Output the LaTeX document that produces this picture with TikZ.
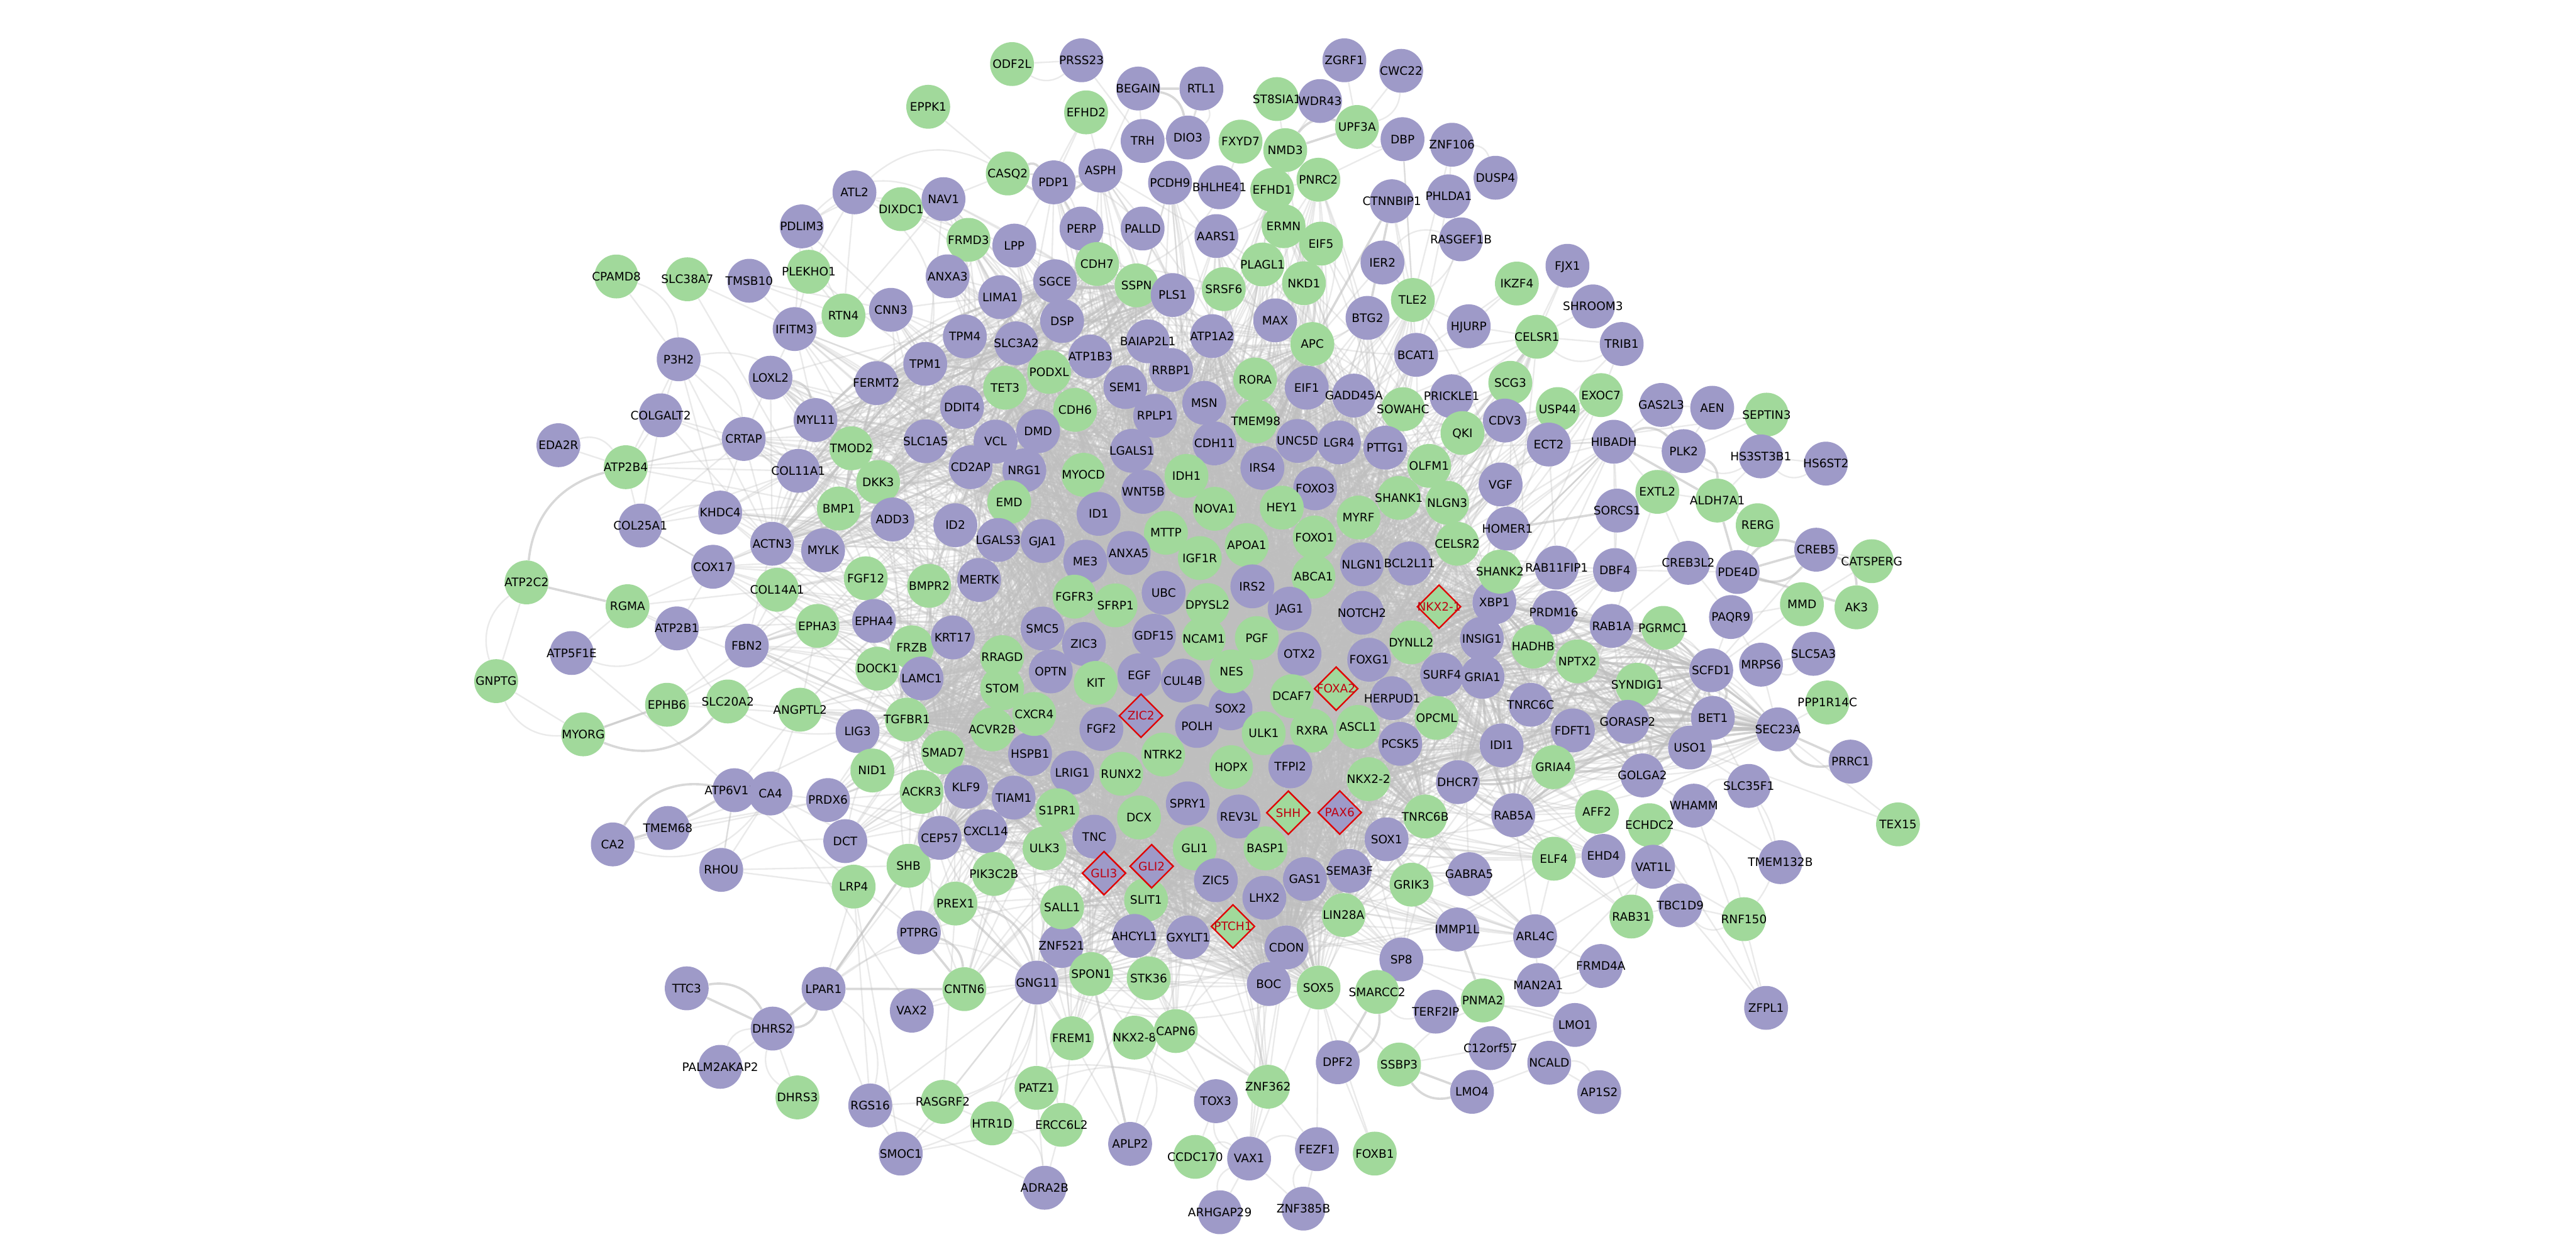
\documentclass[tikz,border=0pt]{standalone}
\usepackage{fontspec}
\setmainfont{DejaVu Sans}
\usetikzlibrary{shapes.geometric,backgrounds}
\definecolor{genepurple}{HTML}{9E9AC8}
\definecolor{genegreen}{HTML}{A1D99B}
\definecolor{edgegrey}{HTML}{BEBEBE}
\definecolor{hubred}{HTML}{E00000}
\definecolor{hubtext}{HTML}{C00010}

% central part of the network
\def\corelist{KIT,EGF,CUL4B,NES,OTX2,DCAF7,FOXA2,SOX2,POLH,ULK1,RXRA,ASCL1,FGF2,ZIC2,NTRK2,RUNX2,HOPX,TFPI2,NKX2-2,DCX,SPRY1,REV3L,SHH,PAX6,TNC,GLI1,BASP1,GLI3,GLI2,ZIC5,GAS1,SEMA3F,LHX2,PTCH1,SLIT1,LRIG1,S1PR1,HSPB1,TIAM1,ULK3,CXCR4,ACVR2B,OPTN,SMC5,ZIC3,GDF15,NCAM1,PGF,JAG1,NOTCH2,FOXG1,DYNLL2,HERPUD1,SURF4,GRIA1,PCSK5,OPCML,IDI1,SOX1,TNRC6B,DHCR7,UBC,DPYSL2,SFRP1,FGFR3,ME3,ANXA5,IGF1R,APOA1,IRS2,MTTP,ID1,NOVA1,HEY1,FOXO1,ABCA1,NLGN1,BCL2L11,NKX2-1,XBP1,INSIG1,MYRF,FOXO3,IRS4,WNT5B,IDH1,LGALS1,CDH11,MYOCD,EMD,GJA1,LGALS3,MERTK,RRAGD,STOM,KRT17,LAMC1,TGFBR1,SMAD7,KLF9,CXCL14,CEP57,AHCYL1,GXYLT1,CDON,BOC,SOX5,LIN28A,GRIK3,SHANK1,NLGN3,CELSR2,OLFM1,PTTG1,LGR4,UNC5D,TMEM98,RORA,MSN,RPLP1,SEM1,RRBP1,CDH6,DMD,NRG1,CD2AP,VCL,TET3,PODXL,ATP1A2,BAIAP2L1,APC,EIF1,GADD45A}
\def\hublist{EGF,SOX2,SHH,GLI1,POLH,UBC,KIT,NES,FGF2,TNC,GAS1,ZIC5,PAX6,ZIC2,HOPX,DCX,NTRK2,RXRA,ASCL1,JAG1,OTX2,FOXG1,IGF1R,APOA1,LGALS1,ID1,GLI2,GLI3,BASP1,CDON,ULK1,NOTCH2,TGFBR1,SMAD7,ACVR2B,MYOCD,CDH11,APC,NLGN1,XBP1}
% nodes with a fan of lines into the centre
\def\ringlist{CASQ2,PDP1,ASPH,PCDH9,BHLHE41,EFHD1,PNRC2,NAV1,DIXDC1,FRMD3,LPP,PERP,PALLD,AARS1,ERMN,EIF5,RTN4,CNN3,ANXA3,LIMA1,SGCE,CDH7,SSPN,PLS1,SRSF6,PLAGL1,NKD1,MAX,DSP,IFITM3,TPM1,TPM4,SLC3A2,FERMT2,ATP1B3,DDIT4,SLC1A5,LOXL2,MYL11,CRTAP,TMOD2,COL11A1,DKK3,BMP1,ADD3,ID2,KHDC4,ACTN3,MYLK,COX17,COL14A1,FGF12,BMPR2,EPHA3,EPHA4,FRZB,DOCK1,ANGPTL2,FBN2,LIG3,NID1,ACKR3,PRDX6,DCT,LRP4,SHB,PIK3C2B,PREX1,SALL1,PTPRG,CNTN6,GNG11,ZNF521,SPON1,STK36,FREM1,NKX2-8,CAPN6,ZNF362,SP8,SMARCC2,IMMP1L,GABRA5,ARL4C,RAB5A,ELF4,AFF2,EHD4,GRIA4,FDFT1,GORASP2,TNRC6C,SYNDIG1,NPTX2,HADHB,PRDM16,RAB1A,SHANK2,RAB11FIP1,DBF4,HOMER1,VGF,QKI,CDV3,ECT2,USP44,SCG3,PRICKLE1,SOWAHC,BCAT1,BTG2,TLE2,HJURP,HIBADH,CELSR1,EXOC7}
% denser patches
\def\rightlist{RAB1A,PGRMC1,SYNDIG1,GORASP2,FDFT1,TNRC6C,GRIA1,GRIA4,IDI1,SCFD1,BET1,USO1,GOLGA2,SEC23A,INSIG1,HADHB,NPTX2,XBP1,PRDM16,SURF4,DHCR7,RAB5A}
\def\leftlist{TPM1,TPM4,FERMT2,MYL11,TMOD2,DDIT4,SLC1A5,VCL,CD2AP,DKK3,ACTN3,MYLK,COL11A1,SLC3A2,ATP1B3,BAIAP2L1,DSP,SGCE,CDH7,SSPN,PLS1}
\def\bottomlist{PTCH1,GLI1,GLI2,GLI3,SHH,ZIC5,LHX2,GAS1,CDON,BOC,SLIT1,AHCYL1,GXYLT1,SALL1,ZNF521,GNG11,TNC,LIN28A,SOX5}

\newcommand{\meshnodes}[4]{%
  \foreach \a [count=\i] in #1 {
    \foreach \b [count=\j] in #2 {
      \edef\h{\the\numexpr\i*\i*13+\j*\j*7+\i*\j*5+\i+\j\relax}
      \ifnum\numexpr\h-(\h/#3)*#3\relax=0
        \ifx\a\b\else
          \draw[#4,bend left=\the\numexpr\i*3+\j*5-((\i*3+\j*5)/25)*25+9\relax] (\a) to (\b);
        \fi
      \fi
    }
  }}

\begin{document}
\begin{tikzpicture}[
  x=1pt,y=-1pt,
  gene/.style={circle,minimum size=26.7pt,inner sep=0pt,text=black,
    font=\fontsize{7.1}{8}\selectfont,text height=5.2pt,text depth=0pt},
  pnode/.style={gene,fill=genepurple},
  gnode/.style={gene,fill=genegreen},
  hub/.style={diamond,aspect=1,minimum size=26.7pt,inner sep=0pt,draw=hubred,line width=.9pt,
    text=hubtext,font=\fontsize{7.1}{8}\selectfont,text height=5.2pt,text depth=0pt},
  pdiam/.style={hub,fill=genepurple},
  gdiam/.style={hub,fill=genegreen},
  web/.style={edgegrey,draw opacity=.32,line width=.9pt},
  webb/.style={edgegrey,draw opacity=.6,line width=1.4pt},
]
  \useasboundingbox (0,0) rectangle (1568,763);

  % genes, top to bottom
  \foreach \x/\y/\kind/\gene in {
    616/39/gnode/ODF2L,658.3/36.7/pnode/PRSS23,692.8/53.9/pnode/BEGAIN,731.3/53.9/pnode/RTL1,661.1/68.4/gnode/EFHD2,565/65/gnode/EPPK1,
    777.2/60.3/gnode/ST8SIA1,803.5/61.5/pnode/WDR43,818.3/36.7/pnode/ZGRF1,852.9/43.1/pnode/CWC22,826/77.3/gnode/UPF3A,695.5/85.8/pnode/TRH,
    723.1/83.7/pnode/DIO3,755.1/86.2/gnode/FXYD7,782.3/91.4/gnode/NMD3,853.7/84.7/pnode/DBP,883.8/88.1/pnode/ZNF106,910.3/108.2/pnode/DUSP4,
    613.4/105.6/gnode/CASQ2,641.4/111/pnode/PDP1,669.8/103.8/pnode/ASPH,712.2/111.2/pnode/PCDH9,742.3/114/pnode/BHLHE41,802.5/109.4/gnode/PNRC2,
    774.4/115.6/gnode/EFHD1,847.2/122.5/pnode/CTNNBIP1,881.8/119.5/pnode/PHLDA1,889.3/145.7/pnode/RASGEF1B,520.1/117.1/pnode/ATL2,
    548.5/127.3/gnode/DIXDC1,574.3/121.2/pnode/NAV1,488/137.8/pnode/PDLIM3,589.5/146/gnode/FRMD3,617.4/149.5/pnode/LPP,658.3/139.1/pnode/PERP,
    695.5/139.1/pnode/PALLD,740.4/143.7/pnode/AARS1,781.3/137.7/gnode/ERMN,804.1/148.3/gnode/EIF5,841.5/159.8/pnode/IER2,492.3/165.4/gnode/PLEKHO1,
    375.2/168.3/gnode/CPAMD8,418.4/170/gnode/SLC38A7,456.1/170.9/pnode/TMSB10,576.8/168.2/pnode/ANXA3,667.8/160.7/gnode/CDH7,642.2/171.2/pnode/SGCE,
    768.5/161/gnode/PLAGL1,793.7/172.4/gnode/NKD1,691.8/173.7/gnode/SSPN,744.9/176/gnode/SRSF6,713.8/179.6/pnode/PLS1,860/182.6/gnode/TLE2,
    923.3/172.6/gnode/IKZF4,954.1/161.8/pnode/FJX1,969.6/186.5/pnode/SHROOM3,513.4/192/gnode/RTN4,542.3/188.6/pnode/CNN3,608.8/180.9/pnode/LIMA1,
    483.7/200.3/pnode/IFITM3,587.3/204.8/pnode/TPM4,618.6/209/pnode/SLC3A2,646.5/195.4/pnode/DSP,832.4/193.5/pnode/BTG2,776.2/195/pnode/MAX,
    894/198.6/pnode/HJURP,935.5/205/gnode/CELSR1,987.1/209.4/pnode/TRIB1,698.7/207.8/pnode/BAIAP2L1,737.8/204.6/pnode/ATP1A2,798.8/209.4/gnode/APC,
    862/216/pnode/BCAT1,413.1/218.7/pnode/P3H2,469/229.9/pnode/LOXL2,563.2/221.5/pnode/TPM1,533.4/233.2/pnode/FERMT2,611.8/236/gnode/TET3,
    638.6/226.4/gnode/PODXL,663.7/217/pnode/ATP1B3,712.8/225.2/pnode/RRBP1,685/235.6/pnode/SEM1,764/231/gnode/RORA,795.4/236/pnode/EIF1,
    824.1/240.8/pnode/GADD45A,854/249.1/gnode/SOWAHC,883.6/241.2/pnode/PRICKLE1,919.3/233/gnode/SCG3,948.2/249/gnode/USP44,974.5/240.5/gnode/EXOC7,
    1011.2/246.5/pnode/GAS2L3,1042.2/248.2/pnode/AEN,1075.3/252.4/gnode/SEPTIN3,402.2/252.8/pnode/COLGALT2,585.6/247.8/pnode/DDIT4,654.4/249.5/gnode/CDH6,
    733/245.2/pnode/MSN,703.1/253.1/pnode/RPLP1,764.4/256.5/gnode/TMEM98,789.9/268.4/pnode/UNC5D,815/269.3/pnode/LGR4,843.2/272.5/pnode/PTTG1,
    890.2/263.6/gnode/QKI,916/256/pnode/CDV3,942.7/270.6/pnode/ECT2,982.3/268.9/pnode/HIBADH,1024.8/274.6/pnode/PLK2,1071.8/277.8/pnode/HS3ST3B1,
    1111.4/282.2/pnode/HS6ST2,339.9/271/pnode/EDA2R,452.7/267.2/pnode/CRTAP,563.4/268.6/pnode/SLC1A5,606/268.8/pnode/VCL,623.5/286.3/pnode/NRG1,
    631.9/262.5/pnode/DMD,590.8/284.4/pnode/CD2AP,689/274.4/pnode/LGALS1,739.3/269.9/pnode/CDH11,768.4/284.8/pnode/IRS4,496.4/255.7/pnode/MYL11,
    518.2/272.9/gnode/TMOD2,534.5/293.4/gnode/DKK3,659.4/289/gnode/MYOCD,722.2/289.7/gnode/IDH1,695.9/299.4/pnode/WNT5B,800.5/297.3/pnode/FOXO3,
    380.9/284.4/gnode/ATP2B4,485.9/286.6/pnode/COL11A1,614.3/305.6/gnode/EMD,510.6/309.5/gnode/BMP1,543.3/316.2/pnode/ADD3,851.5/303.1/gnode/SHANK1,
    869.9/283.6/gnode/OLFM1,880.9/306/gnode/NLGN3,780.2/309/gnode/HEY1,739.4/309.7/gnode/NOVA1,709.7/324.3/gnode/MTTP,668.7/312.8/pnode/ID1,
    581.5/319.7/pnode/ID2,826.9/315/gnode/MYRF,913.4/294.9/pnode/VGF,1008.8/299.4/gnode/EXTL2,1045.3/304.7/gnode/ALDH7A1,984.3/310.8/pnode/SORCS1,
    1069.9/319.7/gnode/RERG,917.6/321.8/pnode/HOMER1,800.2/327.2/gnode/FOXO1,389.8/319.9/pnode/COL25A1,438.4/312/pnode/KHDC4,470/331/pnode/ACTN3,
    501/335/pnode/MYLK,607.6/328.7/pnode/LGALS3,634.6/329.3/pnode/GJA1,660.6/341.9/pnode/ME3,687/336.6/pnode/ANXA5,730.3/339.7/gnode/IGF1R,
    758.9/331.8/gnode/APOA1,887/331/gnode/CELSR2,858/343/pnode/BCL2L11,829/343.5/pnode/NLGN1,799.5/351/gnode/ABCA1,909.6/366.7/pnode/XBP1,913/348/gnode/SHANK2,
    947.5/345.5/pnode/RAB11FIP1,983/347/pnode/DBF4,1027.6/342.6/pnode/CREB3L2,1057.7/348.2/pnode/PDE4D,1105.5/334.6/pnode/CREB5,1139.3/341.6/gnode/CATSPERG,
    1096.8/367.8/gnode/MMD,1130/369.7/gnode/AK3,1053.6/375.6/pnode/PAQR9,434/345/pnode/COX17,473/359/gnode/COL14A1,527/352/gnode/FGF12,565.6/356.6/gnode/BMPR2,
    596/353/pnode/MERTK,320.5/354.5/gnode/ATP2C2,382/369/gnode/RGMA,412/382.5/pnode/ATP2B1,348/397.5/pnode/ATP5F1E,302/414.6/gnode/GNPTG,355/447/gnode/MYORG,
    406/429/gnode/EPHB6,443/427/gnode/SLC20A2,454.6/393/pnode/FBN2,497.6/381/gnode/EPHA3,532/378/pnode/EPHA4,555/394/gnode/FRZB,534/407/gnode/DOCK1,
    580/388/pnode/KRT17,561/413/pnode/LAMC1,610/400/gnode/RRAGD,610/419/gnode/STOM,604/444/gnode/ACVR2B,552/438/gnode/TGFBR1,522/445/pnode/LIG3,
    487/432/gnode/ANGPTL2,574/458/gnode/SMAD7,531/469/gnode/NID1,561/482/gnode/ACKR3,588/479/pnode/KLF9,447/481/pnode/ATP6V1B1,469/483/pnode/CA4,
    504/487/pnode/PRDX6,406.5/504/pnode/TMEM68,373/514/pnode/CA2,514.5/512/pnode/DCT,439/529.5/pnode/RHOU,553/527/gnode/SHB,572/510/pnode/CEP57,
    600/506/pnode/CXCL14,605/532/gnode/PIK3C2B,617/485.5/pnode/TIAM1,627/459/pnode/HSPB1,654/363.2/gnode/FGFR3,679/368.5/gnode/SFRP1,708.3/360.8/pnode/UBC,
    762.3/356.9/pnode/IRS2,735/368.3/gnode/DPYSL2,785/370.5/pnode/JAG1,829/373/pnode/NOTCH2,634.6/382.6/pnode/SMC5,659.8/392/pnode/ZIC3,702.4/387/pnode/GDF15,
    732.7/388.7/gnode/NCAM1,765/388.4/gnode/PGF,791/398/pnode/OTX2,859/391/gnode/DYNLL2,833.4/401.6/pnode/FOXG1,639.6/408.7/pnode/OPTN,667/415.7/gnode/KIT,
    693.5/411/pnode/EGF,720/414.3/pnode/CUL4B,749/431.2/pnode/SOX2,749.6/408.7/gnode/NES,877.8/410.6/pnode/SURF4,902.4/412/pnode/GRIA1,902/388.8/pnode/INSIG1,
    945.8/372.8/pnode/PRDM16,981/381/pnode/RAB1A,1012.4/382.2/gnode/PGRMC1,933.2/393.6/gnode/HADHB,960.2/402.6/gnode/NPTX2,847.4/425/pnode/HERPUD1,
    786.4/423.8/gnode/DCAF7,629.5/434.6/gnode/CXCR4,670.4/443.7/pnode/FGF2,728.6/441.9/pnode/POLH,769.2/446.3/gnode/ULK1,798.6/444.7/gnode/RXRA,826.5/442.5/gnode/ASCL1,
    874.4/437/gnode/OPCML,852.3/452.8/pnode/PCSK5,708/459.3/gnode/NTRK2,652.7/470.3/pnode/LRIG1,682.5/471/gnode/RUNX2,749.4/467/gnode/HOPX,785.4/466.5/pnode/TFPI2,
    833/474.3/gnode/NKX2-2,887.4/476.1/pnode/DHCR7,1041.6/408/pnode/SCFD1,1071.9/404.6/pnode/MRPS6,1103.8/398/pnode/SLC5A3,1112.3/427.6/gnode/PPP1R14C,
    996.6/416.8/gnode/SYNDIG1,931.7/429/pnode/TNRC6C,1042.6/437/pnode/BET1,1082.2/444/pnode/SEC23A,990.7/439.4/pnode/GORASP2,957.4/444.6/pnode/FDFT1,
    914/453.7/pnode/IDI1,1028.7/455/pnode/USO1,1126.4/463.6/pnode/PRRC1,945.5/467/gnode/GRIA4,999.7/472/pnode/GOLGA2,1064.5/478.4/pnode/SLC35F1,
    972/494.2/gnode/AFF2,1031/490.4/pnode/WHAMM,921.1/496.2/pnode/RAB5A,1004.1/502.3/gnode/ECHDC2,1155.3/501.8/gnode/TEX15,945.8/522.7/gnode/ELF4,976/521/pnode/EHD4,
    1006.2/527.6/pnode/VAT1L,1083.7/524.8/pnode/TMEM132B,894.3/532.1/pnode/GABRA5,993/557.9/gnode/RAB31,1022.8/551.1/pnode/TBC1D9,1061.5/559.5/gnode/RNF150,
    887/565.8/pnode/IMMP1L,934.4/569.9/pnode/ARL4C,643.6/493.2/gnode/S1PR1,693.3/497.6/gnode/DCX,723/489/pnode/SPRY1,754/497/pnode/REV3L,867.5/497/gnode/TNRC6B,
    844/510.9/pnode/SOX1,666.1/509.3/pnode/TNC,635.8/516.4/gnode/ULK3,727.2/516.4/gnode/GLI1,770.3/516.4/gnode/BASP1,740.1/535.8/pnode/ZIC5,794.3/535.1/pnode/GAS1,
    821.4/530.1/pnode/SEMA3F,859.2/538.5/gnode/GRIK3,646.1/575.8/pnode/ZNF521,646.5/552.3/gnode/SALL1,697.6/547.8/gnode/SLIT1,769.6/546.5/pnode/LHX2,817.8/557/gnode/LIN28A,
    723.2/570.6/pnode/GXYLT1,783.1/576.7/pnode/CDON,772.3/599/pnode/BOC,802.6/601.1/gnode/SOX5,853/584/pnode/SP8,838.2/603.8/gnode/SMARCC2,873.9/615.8/pnode/TERF2IP,
    902.5/609/gnode/PNMA2,936.3/599.6/pnode/MAN2A1,974.4/588/pnode/FRMD4A,958.6/623.9/pnode/LMO1,907.2/638/pnode/C12orf57,943/646.9/pnode/NCALD,973.4/664.8/pnode/AP1S2,
    896/664.6/pnode/LMO4,851.6/648/gnode/SSBP3,814.3/646.6/pnode/DPF2,771.8/661.5/gnode/ZNF362,740.1/670.3/pnode/TOX3,727.5/704.2/gnode/CCDC170,760.3/705.2/pnode/VAX1,
    801.6/699.5/pnode/FEZF1,836.8/702.2/gnode/FOXB1,742.5/737.9/pnode/ARHGAP29,793.4/735.7/pnode/ZNF385B,1075/613.5/pnode/ZFPL1,690.5/631.6/gnode/NKX2-8,715.7/627.6/gnode/CAPN6,
    519.6/539.7/gnode/LRP4,581.6/550/gnode/PREX1,559.3/567.6/pnode/PTPRG,690.5/569.7/pnode/AHCYL1,664.2/592.9/gnode/SPON1,699.2/595.5/gnode/STK36,631.1/598.1/pnode/GNG11,
    587/602.1/gnode/CNTN6,501.3/601.9/pnode/LPAR1,418/601.6/pnode/TTC3,555/615.2/pnode/VAX2,470.3/626.1/pnode/DHRS2,652.5/632/gnode/FREM1,438.4/649.4/pnode/PALM2AKAP2,
    485.4/668/gnode/DHRS3,529.7/672.9/pnode/RGS16,573.8/670.7/gnode/RASGRF2,630.9/662.2/gnode/PATZ1,603.9/683.8/gnode/HTR1D,646.1/684.7/gnode/ERCC6L2,548.3/702.2/pnode/SMOC1,
    687.9/696.3/pnode/APLP2,635.8/723/pnode/ADRA2B,
    813.3/419.2/gdiam/FOXA2,694.5/435.7/pdiam/ZIC2,875.9/369.3/gdiam/NKX2-1,784.2/494.7/gdiam/SHH,815.5/494.6/pdiam/PAX6,672/531.5/pdiam/GLI3,701/527.3/pdiam/GLI2,750.5/563.9/gdiam/PTCH1}
    \node[\kind] (\gene) at (\x,\y) {\makebox[0pt]{\gene}};

  \begin{scope}[on background layer]
    % hairball
    \meshnodes{\corelist}{\corelist}{8}{web}
    \meshnodes{\hublist}{\corelist}{13}{webb}
    \meshnodes{\hublist}{\hublist}{3}{web}
    \meshnodes{\ringlist}{\hublist}{8}{web}
    \meshnodes{\rightlist}{\rightlist}{2}{web}
    \meshnodes{\rightlist}{\rightlist}{7}{webb}
    \meshnodes{\leftlist}{\leftlist}{3}{web}
    \meshnodes{\leftlist}{\leftlist}{11}{webb}
    \meshnodes{\bottomlist}{\bottomlist}{2}{web}

    % thin straight
    \foreach \a/\b in {CPAMD8/P3H2,SLC38A7/COL11A1,SLC38A7/IFITM3,TMSB10/RTN4,TMSB10/IFITM3,TMSB10/CNN3,PDLIM3/RTN4,PDLIM3/CNN3,PDLIM3/ATL2,PDLIM3/IFITM3,PLEKHO1/RTN4,PLEKHO1/IFITM3,
      PLEKHO1/TPM1,IFITM3/FERMT2,IFITM3/MYL11,IFITM3/LOXL2,IFITM3/RTN4,ATL2/RTN4,ATL2/DIXDC1,ATL2/PLEKHO1,DIXDC1/NAV1,DIXDC1/FRMD3,DIXDC1/LPP,NAV1/RTN4,NAV1/CASQ2,CASQ2/EPPK1,PRSS23/TRH,EFHD2/PDP1,EFHD2/ASPH,EFHD2/LPP,
      P3H2/COLGALT2,P3H2/COL11A1,P3H2/ACTN3,P3H2/ATP2B4,P3H2/KHDC4,COLGALT2/ATP2B4,COLGALT2/COL25A1,COLGALT2/CRTAP,COLGALT2/COL11A1,COLGALT2/ACTN3,EDA2R/ATP2B4,
      ATP2B4/COL25A1,ATP2B4/CRTAP,ATP2B4/MYL11,ATP2B4/COL11A1,ATP2B4/BMP1,ATP2B4/TMOD2,COL25A1/CRTAP,COL25A1/KHDC4,COL25A1/COL11A1,COL25A1/COX17,KHDC4/CRTAP,KHDC4/COL11A1,LOXL2/CRTAP,LOXL2/ACTN3,CRTAP/COL11A1,CRTAP/MYL11,CRTAP/ACTN3,
      ATP2C2/GNPTG,GNPTG/MYORG,RGMA/ATP5F1E,RGMA/ATP2B1,RGMA/COX17,RGMA/COL14A1,ATP2B1/EPHA4,ATP2B1/COX17,ATP2B1/TGFBR1,ATP5F1E/ATP6V1B1,MYORG/EPHB6,EPHB6/SLC20A2,SLC20A2/ANGPTL2,EPHB6/FBN2,EPHB6/EPHA3,EPHB6/TGFBR1,SLC20A2/EPHA3,SLC20A2/EPHA4,
      FBN2/COL14A1,FBN2/EPHA3,FBN2/ACTN3,ANGPTL2/LIG3,ANGPTL2/TGFBR1,ANGPTL2/EPHA3,ANGPTL2/CA4,ATP6V1B1/ANGPTL2,ATP6V1B1/LIG3,ATP6V1B1/RHOU,TMEM68/CA4,TMEM68/PRDX6,CA2/PRDX6,CA4/PRDX6,RHOU/CA4,RHOU/LRP4,RHOU/SHB,RHOU/ATP6V1B1,PRDX6/NID1,PRDX6/ACKR3,
      ATP6V1B1/PTPRG,CA4/VAX2,CA4/SHB,COX17/ACTN3,COX17/COL25A1,
      DHRS2/PALM2AKAP2,DHRS2/DHRS3,LPAR1/RGS16,LPAR1/SHB,LPAR1/CEP57,LPAR1/LRP4,LPAR1/PIK3C2B,VAX2/CNTN6,VAX2/GNG11,GNG11/RGS16,GNG11/RASGRF2,GNG11/SMOC1,GNG11/HTR1D,GNG11/PATZ1,GNG11/ERCC6L2,GNG11/FREM1,SPON1/FREM1,SPON1/NKX2-8,
      RGS16/RASGRF2,RGS16/SMOC1,RGS16/ADRA2B,RASGRF2/HTR1D,ERCC6L2/ADRA2B,PATZ1/ADRA2B,SMOC1/ERCC6L2,FREM1/APLP2,RGS16/LRP4,SMOC1/LRP4,RASGRF2/PREX1,PATZ1/SPON1,ERCC6L2/STK36,APLP2/GXYLT1,NKX2-8/TOX3,CAPN6/TOX3,CAPN6/ZNF362,ERCC6L2/FREM1,
      DPF2/FOXB1,SSBP3/C12orf57,C12orf57/LMO1,LMO4/NCALD,LMO1/PNMA2,NCALD/AP1S2,MAN2A1/FRMD4A,ARL4C/MAN2A1,ARL4C/FRMD4A,TOX3/VAX1,TOX3/CCDC170,VAX1/ZNF362,VAX1/BOC,VAX1/CDON,VAX1/SOX5,VAX1/LHX2,VAX1/ARHGAP29,VAX1/ZNF385B,FEZF1/ZNF385B,FEZF1/ZNF362,FEZF1/SOX5,FOXB1/SOX5,
      SOX5/SSBP3,SOX5/DPF2,TERF2IP/PNMA2,SP8/MAN2A1,SP8/GRIK3,SP8/LIN28A,GABRA5/ARL4C,RAB31/TBC1D9,TBC1D9/ZFPL1,RNF150/TBC1D9,RNF150/ZFPL1,ECHDC2/RAB31,VAT1L/RNF150,VAT1L/TBC1D9,EHD4/RAB31,ELF4/RAB31,ELF4/ARL4C,RAB5A/RAB31,RAB5A/ARL4C,SP8/PNMA2,MAN2A1/VAT1L,ARL4C/VAT1L,
      SLC5A3/MRPS6,SEC23A/PPP1R14C,TEX15/USO1,TEX15/SEC23A,SCFD1/SEC23A,SLC35F1/TMEM132B,TMEM132B/GOLGA2,WHAMM/ZFPL1,ECHDC2/ZFPL1,PAQR9/MRPS6,PAQR9/SCFD1,MMD/SCFD1,MMD/PAQR9,CREB5/SCFD1,MRPS6/SEC23A,SLC35F1/BET1,SLC35F1/USO1,
      HS3ST3B1/ALDH7A1,HS3ST3B1/HS6ST2,ALDH7A1/RERG,RERG/PDE4D,CREB5/CATSPERG,MMD/CATSPERG,CREB3L2/PDE4D,CELSR1/TRIB1,CELSR1/SHROOM3,FJX1/CELSR1,FJX1/SCG3,IKZF4/BCAT1,IKZF4/HJURP,GAS2L3/AEN,AEN/PLK2,GAS2L3/PLK2,GAS2L3/HIBADH,SEPTIN3/PLK2,SEPTIN3/ECT2,EXTL2/SORCS1,EXTL2/HIBADH,EXTL2/RAB1A,EXTL2/CREB3L2,
      EXOC7/TRIB1,USP44/TRIB1,DBF4/PDE4D,DBF4/CREB3L2,SORCS1/HIBADH,SORCS1/RAB11FIP1,SORCS1/DBF4,HIBADH/DBF4,HIBADH/RAB11FIP1,HIBADH/PLK2,CREB3L2/PAQR9,CREB3L2/RAB1A,HIBADH/ECT2,ECT2/RAB11FIP1,EXTL2/ALDH7A1,PLK2/EXTL2,
      ODF2L/PRSS23,BEGAIN/TRH,BEGAIN/ASPH,RTL1/DIO3,ZGRF1/UPF3A,CWC22/UPF3A,WDR43/NMD3,ST8SIA1/NMD3,DBP/TLE2,DBP/BCAT1,DBP/PNRC2,ZNF106/PHLDA1,ZNF106/TLE2,PHLDA1/BCAT1,RASGEF1B/BCAT1,CTNNBIP1/BCAT1,CTNNBIP1/TLE2,NMD3/EFHD1,NMD3/APC,PNRC2/NKD1,PNRC2/EFHD1,EIF5/APC,IER2/TLE2,IER2/APC,
      HJURP/TLE2,HJURP/CELSR1,TLE2/PTTG1,BCAT1/CELSR1,CDV3/CELSR1,BCAT1/SOWAHC}
      \draw[web] (\a) -- (\b);

    % thin curved
    \foreach \a/\b in {CPAMD8/P3H2,EDA2R/ATP2B4,P3H2/CRTAP,P3H2/MYL11,LOXL2/COL11A1,ATL2/CASQ2,PDLIM3/NAV1,DIXDC1/TPM4,FRMD3/ANXA3,ATL2/TPM1,
      GNPTG/ATP2C2,MYORG/GNPTG,ATP2B1/ATP5F1E,CA4/CA2,FBN2/EPHA3,COL14A1/RGMA,COL25A1/ACTN3,FBN2/DOCK1,LIG3/ATP2B1,EPHA4/FRZB,
      PALM2AKAP2/DHRS2,DHRS3/DHRS2,LPAR1/GNG11,LPAR1/RGS16,HTR1D/ADRA2B,SMOC1/TOX3,HTR1D/TOX3,RHOU/PREX1,NKX2-8/APLP2,GNG11/RASGRF2,GNG11/SMOC1,
      SSBP3/LMO1,NCALD/AP1S2,TERF2IP/SMARCC2,FRMD4A/MAN2A1,VAX1/TOX3,CCDC170/VAX1,VAX1/FEZF1,ZNF385B/FEZF1,ARHGAP29/VAX1,RNF150/TBC1D9,SLC35F1/RNF150,ECHDC2/RNF150,
      HS6ST2/HS3ST3B1,HS3ST3B1/PLK2,TRIB1/CELSR1,SLC5A3/MRPS6,PRSS23/ODF2L,RTL1/DIO3,RTL1/TRH,CWC22/UPF3A,DBP/UPF3A,ZNF106/DUSP4,IER2/RASGEF1B,PHLDA1/TLE2,FXYD7/SGCE,CASQ2/PERP,PERP/SSPN,
      PDLIM3/FRMD3,CASQ2/PLS1,NMD3/AARS1,WHAMM/SLC35F1}
      \draw[web,bend left=35] (\a) to (\b);

    % heavy straight
    \foreach \a/\b in {ATP2C2/RGMA,FBN2/TGFBR1,EPHB6/MYORG,ATP6V1B1/TMEM68,CA2/TMEM68,TTC3/DHRS2,DHRS2/LPAR1,LPAR1/CNTN6,LPAR1/SHB,PTPRG/CNTN6,PREX1/GNG11,SPON1/APLP2,
      SMARCC2/DPF2,SSBP3/LMO4,IMMP1L/PNMA2,SEC23A/PRRC1,HIBADH/ALDH7A1,ALDH7A1/PDE4D,PDE4D/CREB5,PDE4D/AK3,SORCS1/HOMER1,BEGAIN/RTL1,PDP1/ASPH,UPF3A/NMD3,CTNNBIP1/APC,CTNNBIP1/BTG2,GNG11/ZNF521,SALL1/GNG11,SOX1/GRIK3,LOXL2/MYL11,CELSR1/QKI,RAB1A/SCFD1}
      \draw[webb] (\a) -- (\b);

    % heavy curved
    \foreach \a/\b in {ATP2C2/ATP2B4,SLC20A2/MYORG,CA2/ATP6V1B1,TTC3/DHRS2,LPAR1/DHRS2,PTPRG/CNTN6,PREX1/GNG11,SMARCC2/DPF2,LMO4/SSBP3,PLK2/ALDH7A1,HIBADH/PLK2,PRRC1/SEC23A,
      PDE4D/CREB5,CREB5/PDE4D,CREB5/AK3,BEGAIN/DIO3,ASPH/CASQ2,NMD3/UPF3A,GORASP2/GOLGA2,GOLGA2/USO1,SCFD1/BET1,BET1/USO1,LOXL2/MYL11,CASQ2/PDP1,DOCK1/KRT17,TGFBR1/LAMC1}
      \draw[webb,bend left=35] (\a) to (\b);
  \end{scope}
\end{tikzpicture}
\end{document}
